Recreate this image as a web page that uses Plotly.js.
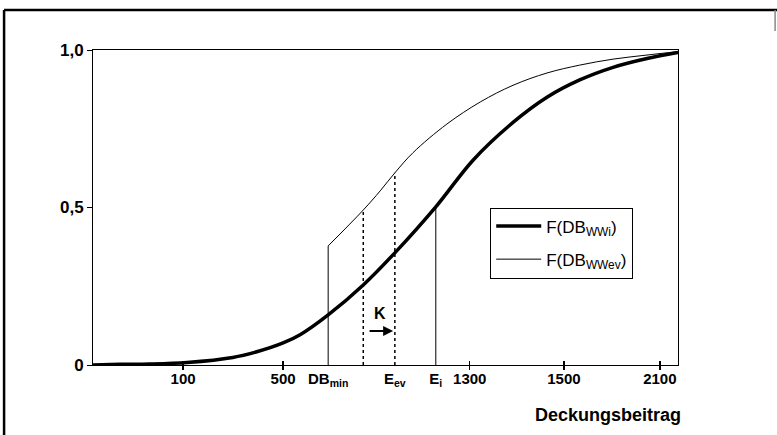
<!DOCTYPE html>
<html>
<head>
<meta charset="utf-8">
<script src="https://cdn.plot.ly/plotly-3.0.1.min.js"></script>
<style>
  html, body { margin: 0; padding: 0; background: #fff; }
  #chart { width: 777px; height: 435px; }
</style>
</head>
<body>
<div id="chart"></div>
<script>
// ---- data (schematic x positions, 0..100 across the plot) ----
var tickPos    = [15.4, 32.5, 40.2, 51.6, 58.6, 64.4, 80.5, 96.9];
var tickLabels = ['100', '500', 'DB<sub>min</sub>', 'E<sub>ev</sub>', 'E<sub>i</sub>', '1300', '1500', '2100'];
var markPos    = [15.4, 32.5, 64.4, 80.5, 96.9];

var yTickVals  = [0, 0.5, 1];
var yTickText  = ['0', '0,5', '1,0'];

// F(DB_WWi) - thick curve
var xWWi = [0, 4.6, 9.7, 16.1, 23.9, 28.0, 32.5, 35.4, 40.2, 46.2, 51.6, 58.6, 65.0, 71.8, 77.6, 83.2, 88.9, 94.7, 100];
var yWWi = [0, 0.002, 0.003, 0.008, 0.024, 0.042, 0.070, 0.096, 0.159, 0.254, 0.356, 0.502, 0.651, 0.770, 0.850, 0.905, 0.945, 0.973, 0.992];

// F(DB_WWev) - thin curve, starting at DB_min
var xWWev = [40.2, 46.2, 49.1, 51.6, 54.7, 60.5, 66.2, 71.8, 77.6, 83.2, 88.9, 94.7, 100];
var yWWev = [0.378, 0.492, 0.553, 0.610, 0.674, 0.765, 0.835, 0.888, 0.927, 0.952, 0.971, 0.984, 0.995];

// vertical reference lines
var dbMin = 40.2, dbMinTop = 0.378;
var kFrom = 46.2, kFromTop = 0.492;
var eEv   = 51.6, eEvTop   = 0.610;
var eI    = 58.6, eITop    = 0.502;

var fontFam = 'Liberation Sans, Arial, Helvetica, sans-serif';

var traces = [
  { x: xWWi, y: yWWi, mode: 'lines', name: 'F(DB<sub>WWi</sub>)',
    line: { color: '#000', width: 3.5, shape: 'spline', smoothing: 1 },
    legendgroup: 'a', hoverinfo: 'skip' },
  { x: xWWev, y: yWWev, mode: 'lines', name: 'F(DB<sub>WWev</sub>)',
    line: { color: '#000', width: 1, shape: 'spline', smoothing: 1 },
    legendgroup: 'b', hoverinfo: 'skip' },
  { x: [dbMin, dbMin], y: [0, dbMinTop], mode: 'lines', showlegend: false,
    line: { color: '#000', width: 1 }, hoverinfo: 'skip' },
  { x: [eI, eI], y: [0, eITop], mode: 'lines', showlegend: false,
    line: { color: '#000', width: 1 }, hoverinfo: 'skip' },
  { x: [kFrom, kFrom], y: [0, kFromTop], mode: 'lines', showlegend: false,
    line: { color: '#000', width: 1.5, dash: 'dot' }, hoverinfo: 'skip' },
  { x: [eEv, eEv], y: [0, eEvTop], mode: 'lines', showlegend: false,
    line: { color: '#000', width: 1.5, dash: 'dot' }, hoverinfo: 'skip' },
  { x: [], y: [], xaxis: 'x2', showlegend: false, hoverinfo: 'skip' },
  { x: [], y: [], xaxis: 'x3', showlegend: false, hoverinfo: 'skip' }
];

var tickFont = { family: fontFam, size: 15, color: '#000', weight: 'bold' };

var layout = {
  width: 777, height: 435,
  margin: { l: 93, r: 99, t: 50, b: 70 },
  paper_bgcolor: '#fff', plot_bgcolor: '#fff',
  font: { family: fontFam, color: '#000' },
  showlegend: true,
  legend: {
    x: 0.679, y: 0.5, xanchor: 'left', yanchor: 'top',
    bordercolor: '#000', borderwidth: 1, bgcolor: '#fff',
    font: { family: fontFam, size: 17, color: '#000' },
    tracegroupgap: 8, itemwidth: 45
  },
  xaxis: {
    range: [0, 100], showgrid: false, zeroline: false,
    showline: true, linecolor: '#000', linewidth: 1, mirror: true,
    tickvals: tickPos, ticktext: tickLabels, ticks: '',
    tickfont: tickFont, fixedrange: true
  },
  xaxis2: {
    overlaying: 'x', anchor: 'y', side: 'bottom', range: [0, 100],
    showgrid: false, zeroline: false, showline: false,
    tickvals: markPos, ticks: 'outside', ticklen: 4, tickcolor: '#000', tickwidth: 1.5,
    showticklabels: false, fixedrange: true
  },
  xaxis3: {
    overlaying: 'x', anchor: 'y', side: 'bottom', range: [0, 100],
    showgrid: false, zeroline: false, showline: false,
    tickvals: markPos, ticks: 'inside', ticklen: 4, tickcolor: '#000', tickwidth: 1.5,
    showticklabels: false, fixedrange: true
  },
  yaxis: {
    range: [0, 1], showgrid: false,
    zeroline: true, zerolinecolor: '#000', zerolinewidth: 2,
    showline: true, linecolor: '#000', linewidth: 1, mirror: true,
    tickvals: yTickVals, ticktext: yTickText, ticks: 'outside', ticklen: 5, tickcolor: '#000',
    tickfont: { family: fontFam, size: 17, color: '#000', weight: 'bold' },
    fixedrange: true
  },
  annotations: [
    { x: 49.1, y: 0.165, xref: 'x', yref: 'y', text: 'K', showarrow: false,
      font: { family: fontFam, size: 16, color: '#000', weight: 'bold' } },
    { x: 51.3, y: 0.108, xref: 'x', yref: 'y', text: '', showarrow: true,
      ax: -25, ay: 0, arrowhead: 2, arrowsize: 1, arrowwidth: 2, arrowcolor: '#000' },
    { x: 0.88, y: -0.159, xref: 'paper', yref: 'paper', text: 'Deckungsbeitrag', showarrow: false,
      xanchor: 'center', yanchor: 'middle',
      font: { family: fontFam, size: 18, color: '#000', weight: 'bold' } }
  ],
  shapes: [
    { type: 'line', xref: 'paper', yref: 'paper', x0: -0.152, x1: -0.152, y0: 1.127, y1: -0.25,
      line: { color: '#000', width: 2.5 } },
    { type: 'line', xref: 'paper', yref: 'paper', x0: -0.152, x1: 1.18, y0: 1.127, y1: 1.127,
      line: { color: '#000', width: 2.5 } },
    { type: 'line', xref: 'paper', yref: 'paper', x0: 1.166, x1: 1.166, y0: 1.127, y1: 1.06,
      line: { color: '#888', width: 1.5 } }
  ]
};

Plotly.newPlot('chart', traces, layout, { displayModeBar: false, staticPlot: true });
</script>
</body>
</html>
